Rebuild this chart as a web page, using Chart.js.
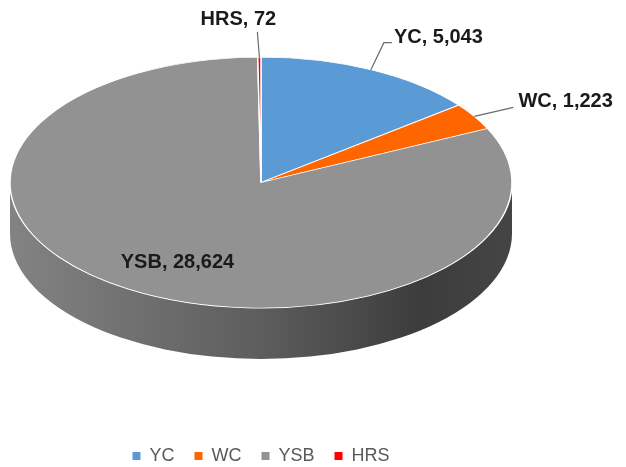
<!DOCTYPE html>
<html>
<head>
<meta charset="utf-8">
<script src="https://cdn.jsdelivr.net/npm/chart.js@4.4.1/dist/chart.umd.min.js"></script>
<style>
  html, body { margin: 0; padding: 0; background: #fff; }
  #wrap { width: 626px; height: 467px; }
</style>
</head>
<body>
<div id="wrap"><canvas id="chart"></canvas></div>
<script>
const categories = ['YC', 'WC', 'YSB', 'HRS'];
const counts = [5043, 1223, 28624, 72];
const sliceColors = ['#5b9bd5', '#ff6600', '#929292', '#ff0000'];

const PIE_RADIUS = 251;
const TILT = 0.5;   // vertical squash of the top face
const DEPTH = 51;   // thickness of the pie

// side wall shading, left to right: [stop, brightness factor]
const sideShades = [[0, 0.9], [0.5, 0.64], [0.82, 0.41], [1, 0.47]];

// where each data label sits, relative to the rim point of its slice
const labelLayout = [
  {mode: 'out', elbow: [13, -27], run: 8, text: [2, -5], align: 'left'},    // YC
  {mode: 'out', elbow: [39, -9], run: 0, text: [5, -6], align: 'left'},     // WC
  {mode: 'in', frac: [0.63, 0.75]},                                          // YSB
  {mode: 'out', elbow: [-2, -25], run: 0, text: [-19, -13], align: 'center'} // HRS
];

function shade(hex, k) {
  const n = parseInt(hex.slice(1), 16);
  const c = [(n >> 16) & 255, (n >> 8) & 255, n & 255].map(v => Math.round(v * k));
  return 'rgb(' + c.join(',') + ')';
}

const pie3d = {
  id: 'pie3d',
  beforeDatasetsDraw(chart) {
    const {ctx, chartArea} = chart;
    const arcs = chart.getDatasetMeta(0).data;
    const r = arcs[0].outerRadius;
    const cx = arcs[0].x;
    const cy = chartArea.top + r * TILT;

    // Side wall, only the front half shows.
    ctx.save();
    arcs.forEach(arc => {
      const a0 = Math.max(arc.startAngle, 0);
      const a1 = Math.min(arc.endAngle, Math.PI);
      if (a1 <= a0) return;
      const grad = ctx.createLinearGradient(cx - r, 0, cx + r, 0);
      sideShades.forEach(([stop, k]) => grad.addColorStop(stop, shade(arc.options.backgroundColor, k)));
      ctx.beginPath();
      ctx.ellipse(cx, cy, r, r * TILT, 0, a0, a1);
      ctx.ellipse(cx, cy + DEPTH, r, r * TILT, 0, a1, a0, true);
      ctx.closePath();
      ctx.fillStyle = grad;
      ctx.fill();
    });
    ctx.restore();

    // Squash the flat pie into the tilted top face.
    ctx.save();
    ctx.translate(0, cy);
    ctx.scale(1, TILT);
    ctx.translate(0, -arcs[0].y);
  },
  afterDatasetsDraw(chart) {
    const {ctx, chartArea} = chart;
    ctx.restore();

    const arcs = chart.getDatasetMeta(0).data;
    const r = arcs[0].outerRadius;
    const cx = arcs[0].x;
    const cy = chartArea.top + r * TILT;

    ctx.save();
    ctx.font = 'bold 20px "Liberation Sans", Arial, sans-serif';
    ctx.textBaseline = 'middle';
    ctx.fillStyle = '#1a1a1a';
    ctx.strokeStyle = '#6b6b6b';
    ctx.lineWidth = 1.2;

    arcs.forEach((arc, i) => {
      const mid = (arc.startAngle + arc.endAngle) / 2;
      const text = categories[i] + ', ' + counts[i].toLocaleString('en-US');
      const lay = labelLayout[i];

      if (lay.mode === 'in') {
        ctx.textAlign = 'center';
        ctx.fillText(text, cx + r * lay.frac[0] * Math.cos(mid), cy + r * TILT * lay.frac[1] * Math.sin(mid));
        return;
      }

      const ax = cx + r * Math.cos(mid);
      const ay = cy + r * TILT * Math.sin(mid);
      const ex = ax + lay.elbow[0];
      const ey = ay + lay.elbow[1];
      ctx.beginPath();
      ctx.moveTo(ax, ay);
      ctx.lineTo(ex, ey);
      if (lay.run) ctx.lineTo(ex + lay.run, ey);
      ctx.stroke();

      ctx.textAlign = lay.align;
      ctx.fillText(text, ex + lay.run + lay.text[0], ey + lay.text[1]);
    });
    ctx.restore();
  }
};

const config = {
  type: 'pie',
  data: {
    labels: categories,
    datasets: [{
      data: counts,
      backgroundColor: sliceColors,
      borderColor: '#ffffff',
      borderWidth: 1.5,
      radius: PIE_RADIUS,
      clip: false
    }]
  },
  options: {
    responsive: true,
    maintainAspectRatio: false,
    animation: false,
    events: [],
    layout: {
      padding: {left: 10, right: 114, top: 57, bottom: -8}
    },
    plugins: {
      tooltip: {enabled: false},
      legend: {
        position: 'bottom',
        labels: {
          boxWidth: 8,
          boxHeight: 8,
          padding: 20,
          color: '#595959',
          font: {family: '"Liberation Sans", Arial, sans-serif', size: 18},
          generateLabels: (chart) => Chart.overrides.doughnut.plugins.legend.labels
            .generateLabels(chart).map(item => ({...item, lineWidth: 0}))
        }
      }
    }
  },
  plugins: [pie3d]
};

new Chart(document.getElementById('chart'), config);
</script>
</body>
</html>
